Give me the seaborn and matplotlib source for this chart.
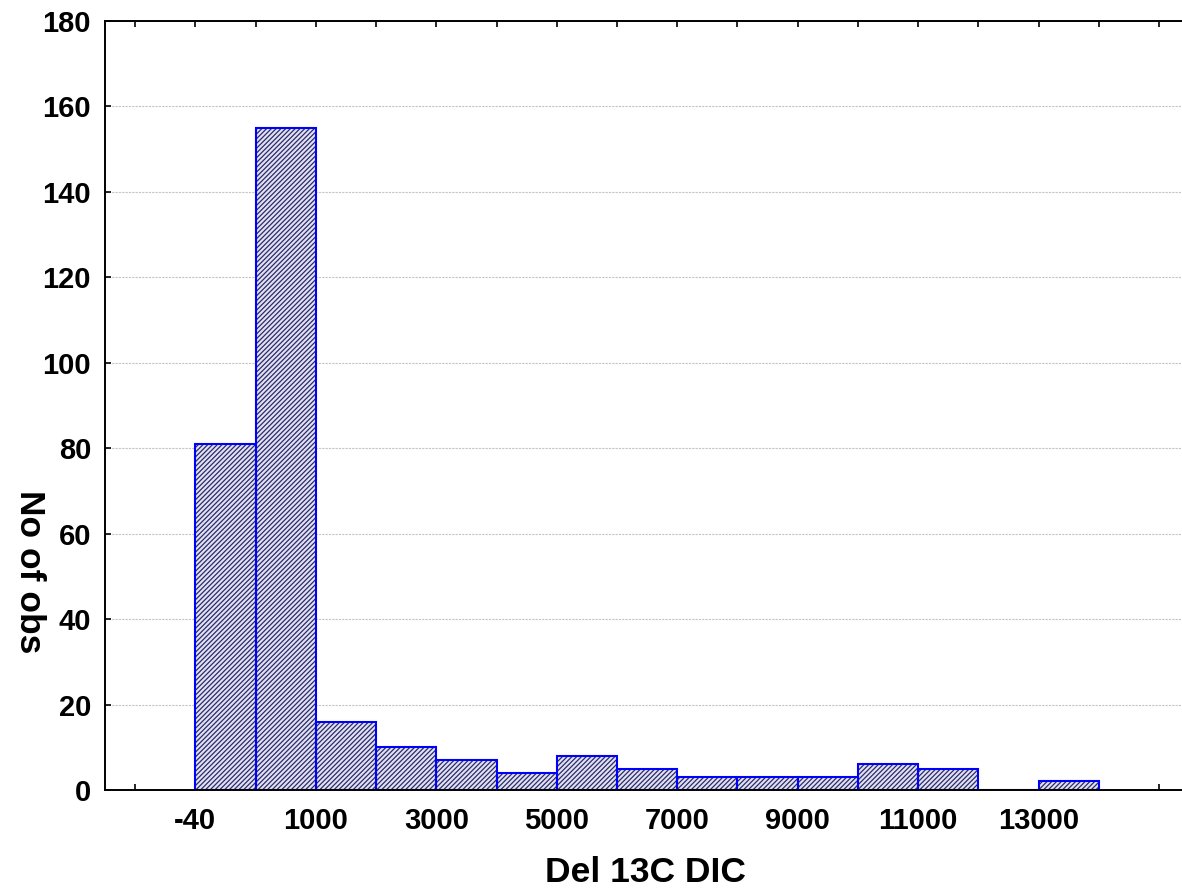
import matplotlib
matplotlib.use("Agg")
import matplotlib.pyplot as plt
import seaborn as sns
import pandas as pd
import numpy as np

# Histogram of Del 13C DIC: counts per bin
bin_index = list(range(15))
counts = [81, 155, 16, 10, 7, 4, 8, 5, 3, 3, 3, 6, 5, 0, 2]
edge_labels = ["-40", "1000", "3000", "5000", "7000", "9000", "11000", "13000"]

sns.set_theme(style="white")
plt.rcParams["font.family"] = ["Liberation Sans", "DejaVu Sans"]
plt.rcParams["font.weight"] = "bold"
plt.rcParams["text.color"] = "black"
plt.rcParams["hatch.linewidth"] = 0.9

df = pd.DataFrame({"bin": [str(b) for b in bin_index], "count": counts})

fig = plt.figure(figsize=(11.82, 8.90), dpi=100)
ax = fig.add_axes([105 / 1182, 100 / 890, 1.0 - 105 / 1182, (790 - 21) / 890])

# hatched fill (hatch takes the edge colour, so outline is drawn separately)
sns.barplot(data=df, x="bin", y="count", width=1.0, ax=ax,
            color="#e2e2ee", edgecolor="#2a2a70", linewidth=0,
            errorbar=None, saturation=1)
for p in ax.patches:
    p.set_hatch("///////")
    p.set_facecolor("#e2e2ee")
    p.set_edgecolor("#2a2a70")
    p.set_linewidth(0)
n_fill = len(ax.patches)

# blue bar outlines
sns.barplot(data=df, x="bin", y="count", width=1.0, ax=ax,
            fill=False, edgecolor="#0000ff", linewidth=1.5,
            errorbar=None, saturation=1)
for p in ax.patches[n_fill:]:
    p.set_facecolor("none")
    p.set_edgecolor("#0000ff")
    p.set_linewidth(1.5)

# bin edges sit half a category away from the bar centres
edges = np.arange(-1, 17) - 0.5
labels = []
for k in range(-1, 17):
    if k >= 0 and k % 2 == 0 and k // 2 < len(edge_labels):
        labels.append(edge_labels[k // 2])
    else:
        labels.append("")
ax.set_xticks(edges)
ax.set_xticklabels(labels)
ax.set_xlim(-2.0, 15.88)

ax.set_ylim(0, 180)
ax.set_yticks(np.arange(0, 181, 20))

ax.tick_params(axis="x", direction="in", length=4.5, width=1.2, top=True,
               bottom=True, labelsize=21, pad=12, colors="black")
ax.tick_params(axis="y", direction="in", length=4, width=1.2, left=True,
               right=False, labelsize=21, pad=10, colors="black")
for lab in ax.get_xticklabels() + ax.get_yticklabels():
    lab.set_fontweight("bold")
    lab.set_color("black")

ax.yaxis.grid(True, color="#c4c4c4", linestyle=(0, (2, 1)), linewidth=0.8)
ax.set_axisbelow(True)

for side in ["left", "top", "bottom"]:
    ax.spines[side].set_color("black")
    ax.spines[side].set_linewidth(1.4)
    ax.spines[side].set_visible(True)
ax.spines["right"].set_visible(False)

ax.set_xlabel("")
ax.set_ylabel("")
fig.text(645 / 1182, 1 - 873 / 890, "Del 13C DIC", ha="center", va="center",
         fontsize=25.5, fontweight="bold", color="black")
fig.text(29 / 1182, 1 - 572 / 890, "No of obs", ha="center", va="center",
         rotation=270, fontsize=25.5, fontweight="bold", color="black")

fig.savefig("out.png", dpi=100)
